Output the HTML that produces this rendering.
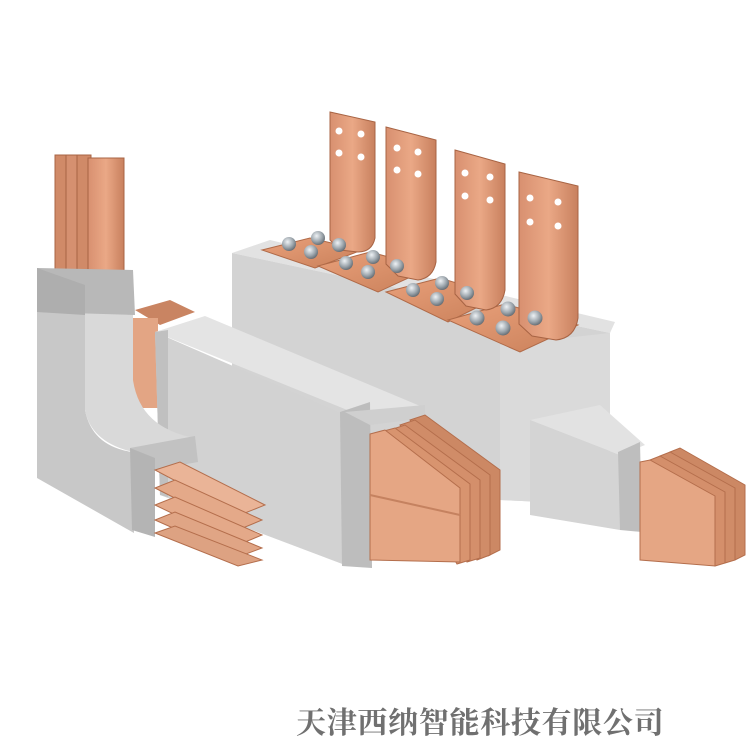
<!DOCTYPE html>
<html><head><meta charset="utf-8"><style>
html,body{margin:0;padding:0;background:#fff;}
.w{position:relative;width:750px;height:750px;overflow:hidden;background:#fff;}
svg{position:absolute;left:0;top:0;}
.t{position:absolute;left:296px;top:700px;width:380px;font-family:"Noto Serif CJK SC","Noto Sans CJK SC",serif;font-weight:bold;font-size:30px;letter-spacing:0.7px;color:#707070;line-height:40px;white-space:nowrap;}
</style></head><body><div class="w">
<svg width="750" height="750" viewBox="0 0 750 750">
<defs>
<linearGradient id="cu" x1="0" y1="0" x2="1" y2="1"><stop offset="0" stop-color="#e9a07a"/><stop offset="1" stop-color="#c9805a"/></linearGradient>
<linearGradient id="cuv" x1="0" y1="0" x2="1" y2="0"><stop offset="0" stop-color="#d89070"/><stop offset="0.5" stop-color="#eaa886"/><stop offset="1" stop-color="#c8805e"/></linearGradient>
<radialGradient id="bolt" cx="0.4" cy="0.35" r="0.7"><stop offset="0" stop-color="#eef2f5"/><stop offset="0.6" stop-color="#9aa3aa"/><stop offset="1" stop-color="#5d656c"/></radialGradient>
</defs>

<!-- big back block -->
<polygon points="232,253 270,240 615,322 610,333" fill="#e2e2e2"/>
<polygon points="232,253 610,333 610,505 500,500 232,440" fill="#d3d3d3"/>
<polygon points="500,345 610,333 610,505 500,500" fill="#dadada"/>

<!-- base plates with bolts -->
<g stroke="#b06a48" stroke-width="1">
<polygon points="262,250 310,238 362,250 315,268" fill="url(#cu)"/>
<polygon points="318,266 370,252 430,268 378,292" fill="url(#cu)"/>
<polygon points="386,292 440,278 500,296 448,322" fill="url(#cu)"/>
<polygon points="448,320 505,304 578,325 520,352" fill="url(#cu)"/>
</g>
<!-- vertical L plates -->
<g stroke="#a86444" stroke-width="1">
<path d="M330,112 L375,122 L375,238 Q372,252 358,252 L340,250 L330,240 Z" fill="url(#cuv)"/>
<path d="M386,127 L436,140 L436,262 Q433,278 418,280 L398,276 L386,264 Z" fill="url(#cuv)"/>
<path d="M455,150 L505,164 L505,290 Q502,308 486,310 L466,306 L455,294 Z" fill="url(#cuv)"/>
<path d="M519,172 L578,186 L578,318 Q575,338 556,340 L532,336 L519,324 Z" fill="url(#cuv)"/>
</g>
<g fill="#fff">
<circle cx="339" cy="131" r="3.5"/><circle cx="361" cy="134" r="3.5"/><circle cx="339" cy="153" r="3.5"/><circle cx="361" cy="157" r="3.5"/>
<circle cx="397" cy="148" r="3.5"/><circle cx="418" cy="152" r="3.5"/><circle cx="397" cy="170" r="3.5"/><circle cx="418" cy="174" r="3.5"/>
<circle cx="465" cy="173" r="3.5"/><circle cx="490" cy="177" r="3.5"/><circle cx="465" cy="196" r="3.5"/><circle cx="490" cy="200" r="3.5"/>
<circle cx="530" cy="198" r="3.5"/><circle cx="558" cy="202" r="3.5"/><circle cx="530" cy="222" r="3.5"/><circle cx="558" cy="226" r="3.5"/>
</g>
<g fill="url(#bolt)">
<circle cx="289" cy="244" r="7"/><circle cx="318" cy="238" r="7"/><circle cx="311" cy="252" r="7"/><circle cx="339" cy="245" r="7"/>
<circle cx="346" cy="263" r="7"/><circle cx="373" cy="257" r="7"/><circle cx="368" cy="272" r="7"/><circle cx="397" cy="266" r="7"/>
<circle cx="413" cy="290" r="7"/><circle cx="442" cy="283" r="7"/><circle cx="437" cy="299" r="7"/><circle cx="467" cy="293" r="7"/>
<circle cx="477" cy="318" r="7.5"/><circle cx="508" cy="309" r="7.5"/><circle cx="503" cy="328" r="7.5"/><circle cx="535" cy="318" r="7.5"/>
</g>

<!-- copper bars behind middle box (left) -->
<polygon points="135,310 170,300 195,312 160,325" fill="#c98462"/>
<rect x="133" y="318" width="25" height="90" fill="#e3a584"/>

<!-- middle long box -->
<polygon points="155,332 205,316 425,408 367,418" fill="#e4e4e4"/>
<polygon points="155,332 345,415 345,565 160,495" fill="#d2d2d2"/>
<polygon points="155,332 168,330 168,497 160,495" fill="#c0c0c0"/>
<polygon points="340,412 370,402 372,568 342,566" fill="#bdbdbd"/>
<polygon points="345,412 425,405 425,418 370,425" fill="#cfcfcf"/>
<!-- copper bars middle -->
<g stroke="#b46e4c" stroke-width="1">
<polygon points="410,420 425,415 500,470 500,550 488,556" fill="#cc8864"/>
<polygon points="400,425 415,420 490,475 490,555 477,560" fill="#d08c68"/>
<polygon points="390,430 405,425 480,480 480,558 467,562" fill="#d48f6b"/>
<polygon points="380,432 395,428 470,484 470,560 457,564" fill="#d8946f"/>
<polygon points="370,434 385,430 460,488 460,562 370,560" fill="#e5a684"/>
</g>
<line x1="370" y1="495" x2="460" y2="515" stroke="#c58260" stroke-width="2"/>

<!-- small right box -->
<polygon points="530,420 600,405 645,445 620,455" fill="#e2e2e2"/>
<polygon points="530,420 620,455 620,530 530,515" fill="#d4d4d4"/>
<polygon points="618,452 640,442 642,532 620,530" fill="#bebebe"/>
<g stroke="#b46e4c" stroke-width="1">
<polygon points="670,452 680,448 745,485 745,555 735,560" fill="#cc8864"/>
<polygon points="660,456 670,452 735,488 735,560 725,563" fill="#d08c68"/>
<polygon points="650,460 660,456 725,492 725,563 715,566" fill="#d48f6b"/>
<polygon points="640,462 650,460 715,496 715,566 640,560" fill="#e5a684"/>
</g>

<!-- left L piece -->
<g stroke="#a86444" stroke-width="1">
<rect x="55" y="155" width="14" height="118" fill="#d08a68"/>
<rect x="66" y="155" width="14" height="118" fill="#d59070"/>
<rect x="77" y="155" width="14" height="118" fill="#d08a68"/>
<rect x="88" y="158" width="36" height="115" fill="url(#cuv)"/>
</g>
<path d="M37,272 L85,290 L85,410 Q92,446 132,452 L134,533 L37,478 Z" fill="#c8c8c8"/>
<path d="M85,290 L133,278 L133,380 Q140,428 195,438 L150,455 Q92,448 85,410 Z" fill="#d9d9d9"/>
<polygon points="37,268 133,270 135,315 37,312" fill="#b8b8b8"/>
<polygon points="37,268 85,285 85,315 37,312" fill="#aeaeae"/>
<polygon points="130,448 195,436 198,462 153,470" fill="#c2c2c2"/>
<polygon points="130,448 155,458 155,537 132,530" fill="#b4b4b4"/>
<g stroke="#b46e4c" stroke-width="1">
<polygon points="155,470 180,462 265,505 240,515" fill="#eab497"/>
<polygon points="155,488 175,480 262,520 238,530" fill="#e4a989"/>
<polygon points="155,505 175,497 262,535 238,545" fill="#e4a989"/>
<polygon points="155,520 175,512 262,548 238,557" fill="#e0a585"/>
<polygon points="155,533 175,526 262,560 238,566" fill="#dda282"/>
</g>
</svg>
<div class="t">天津西纳智能科技有限公司</div>
</div></body></html>
